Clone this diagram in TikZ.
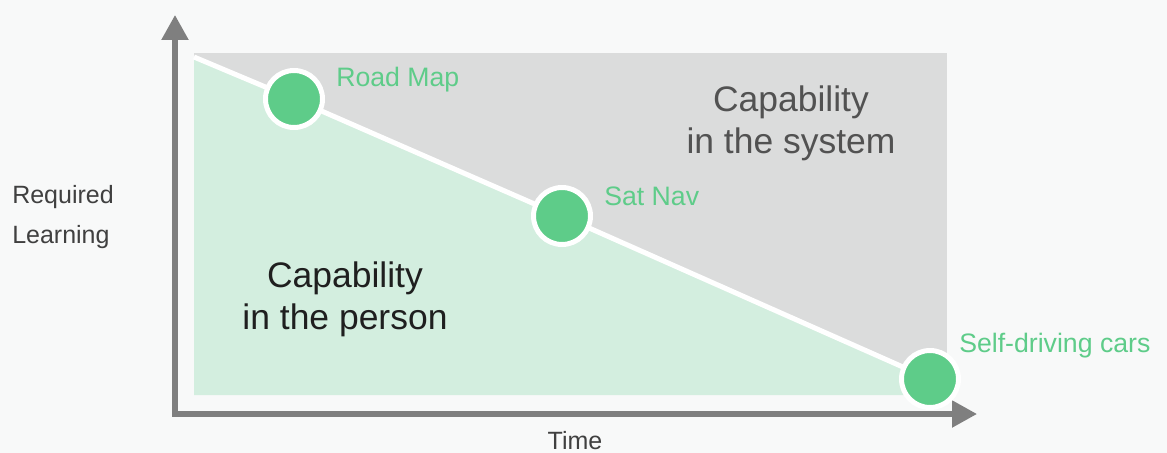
\documentclass[tikz,border=0pt]{standalone}
\usepackage{fontspec}
\setmainfont{Liberation Sans}
\usetikzlibrary{arrows.meta}
\definecolor{bgc}{HTML}{F8F9F9}
\definecolor{sysgray}{HTML}{DBDCDC}
\definecolor{personfill}{HTML}{D3EEDF}
\definecolor{dotgreen}{HTML}{5ECC89}
\definecolor{axisgray}{HTML}{7F7F7F}
\tikzset{
  dot/.style={circle, fill=dotgreen, draw=white, line width=3.75pt, minimum size=42.75pt, inner sep=0pt},
  milestone/.style={anchor=west, text=dotgreen, font=\fontsize{20}{24}\selectfont, inner sep=0pt},
  areatext/.style={align=center, font=\fontsize{26.6}{31.5}\selectfont, inner sep=0pt},
  axislabel/.style={text=black!75, font=\fontsize{18.75}{30}\selectfont, inner sep=0pt},
  axisline/.style={draw=axisgray, line width=4pt, line join=miter,
    {Triangle[length=18.75pt,width=19.5pt]}-{Triangle[length=18.75pt,width=19.5pt]}},
  divider/.style={draw=white, line width=3.75pt}
}
\begin{document}
\begin{tikzpicture}[x=0.75pt, y=-0.75pt]
  % canvas
  \fill[bgc] (0,0) rectangle (1167,453);
  \useasboundingbox (0,0) rectangle (1167,453);

  % points along the capability divide
  \coordinate (start) at (194,57);
  \coordinate (pRM) at (294,99);
  \coordinate (pSN) at (562,216);
  \coordinate (pSD) at (930,379);

  % capability areas
  \fill[sysgray] (194,53) rectangle (947,390);
  \fill[personfill] (start) -- (pSD) -- (930,395) -- (194,395) -- cycle;

  % axes
  \coordinate (ytop) at (175,15);
  \coordinate (origin) at (175,414);
  \coordinate (xend) at (977,414);
  \path[axisline] (ytop) -- (origin) -- (xend);

  % divide line
  \draw[divider] (start) -- (pRM) -- (pSN) -- (pSD);

  % milestones
  \node[dot] (roadmap) at (pRM) {};
  \node[dot] (satnav) at (pSN) {};
  \node[dot] (selfdriving) at (pSD) {};
  \node[milestone] (lblRM) at (336,80) {Road Map};
  \node[milestone] (lblSN) at (604,196) {Sat Nav};
  \node[milestone] (lblSD) at (959,346) {Self-driving cars};

  % area labels
  \node[areatext, text=black!68] (system) at (791,123) {Capability\\in the system};
  \node[areatext, text=black!88] (person) at (345,299) {Capability\\in the person};

  % axis labels
  \node[axislabel, anchor=west, align=left] (ylabel) at (12,217) {Required\\Learning};
  \node[axislabel] (xlabel) at (575,441) {Time};
\end{tikzpicture}
\end{document}
